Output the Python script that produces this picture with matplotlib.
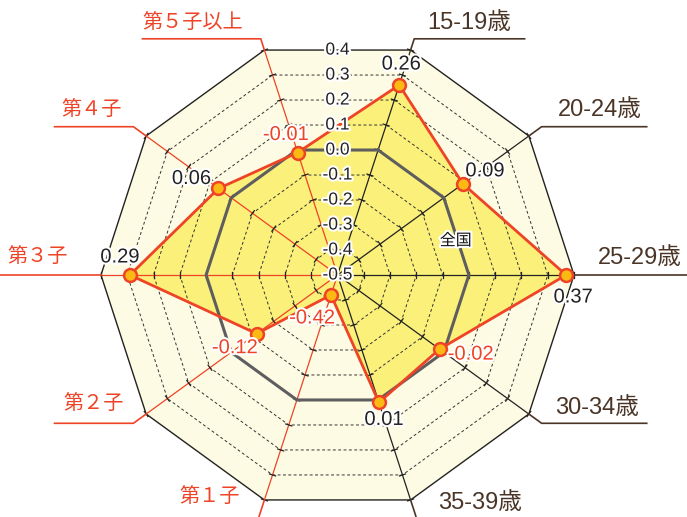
import numpy as np
import matplotlib.pyplot as plt
import matplotlib.patheffects as pe

plt.rcParams['font.family'] = ['Liberation Sans', 'Noto Sans CJK JP', 'DejaVu Sans']

# 軸の並び（時計回り、15-19歳が右上）
categories = ['15-19歳', '20-24歳', '25-29歳', '30-34歳', '35-39歳',
              '第１子', '第２子', '第３子', '第４子', '第５子以上']
values = [0.26, 0.09, 0.37, -0.02, 0.01, -0.42, -0.12, 0.29, 0.06, -0.01]
national = [0.0] * 10
levels = [-0.4, -0.3, -0.2, -0.1, 0.0, 0.1, 0.2, 0.3, 0.4]
tick_labels = ['-0.5', '-0.4', '-0.3', '-0.2', '-0.1', '0.0', '0.1', '0.2', '0.3', '0.4']

vmin, vmax = -0.5, 0.4
angles = np.deg2rad(72 - 36 * np.arange(10))

RED = '#EE4326'
BROWN = '#4A3526'
CREAM = '#FEFBE4'
YELLOW = '#FBF07A'

def xy(v, ang, extra=0.0):
    r = (np.asarray(v) - vmin) + extra
    return r * np.cos(ang), r * np.sin(ang)

halo = [pe.withStroke(linewidth=3, foreground='white')]

fig = plt.figure(figsize=(6.87, 5.17), dpi=100)
ax = fig.add_axes([0, 0, 1, 1])
scale = 262.8
ax.set_xlim(-337.5 / scale, 349.5 / scale)
ax.set_ylim(-242 / scale, 275 / scale)
ax.set_aspect('equal')
ax.axis('off')

# 外枠と背景
ox, oy = xy([vmax] * 10, angles)
ax.fill(ox, oy, color=CREAM, zorder=0)
ax.plot(np.append(ox, ox[0]), np.append(oy, oy[0]), color='#222222', lw=1.0, zorder=2)

# 値の塗り
px, py = xy(values, angles)
ax.fill(px, py, color=YELLOW, zorder=1)

# 目盛りの十角形（破線）
for lv in levels[:-1]:
    gx, gy = xy([lv] * 10, angles)
    ax.plot(np.append(gx, gx[0]), np.append(gy, gy[0]), color='#333333',
            lw=0.7, ls=(0, (3, 2.5)), zorder=2)

# 放射軸と目盛り
for i, ang in enumerate(angles):
    col = RED if categories[i].startswith('第') else '#222222'
    ex, ey = xy(vmax, ang)
    ax.plot([0, ex], [0, ey], color=col, lw=0.9, zorder=3)
    tl = 0.012
    for lv in levels:
        cx, cy = xy(lv, ang)
        nx, ny = -np.sin(ang) * tl, np.cos(ang) * tl
        ax.plot([cx - nx, cx + nx], [cy - ny, cy + ny], color='#222222', lw=0.9, zorder=3)

# 全国（基準＝0）
nx_, ny_ = xy(national, angles)
ax.plot(np.append(nx_, nx_[0]), np.append(ny_, ny_[0]), color='#5E5E5E', lw=2.2, zorder=4)
ax.text(0.45, 0.13, '全国', fontsize=11.5, ha='center', va='center',
        color='#111111', path_effects=halo, zorder=8)

# データの線と点
ax.plot(np.append(px, px[0]), np.append(py, py[0]), color=RED, lw=2.0, zorder=5)
ax.scatter(px, py, s=85, color='#FDB913', edgecolor=RED, linewidth=1.8, zorder=6)

# 値ラベル
offsets = [(2, 21), (22, 13), (7, -22), (31, -5), (5, -17),
           (-19, -23), (-22, -14), (-10, 18), (-27, 10), (-12, 18)]
for v, x, y, off in zip(values, px, py, offsets):
    ax.annotate(f'{v:.2f}', (x, y), xytext=off, textcoords='offset pixels',
                ha='center', va='center', fontsize=14.5,
                color=RED if v < 0 else '#222222', path_effects=halo, zorder=9)

# 縦の目盛りラベル
apothem = np.cos(np.deg2rad(18))
for lv, lab in zip([vmin] + levels, tick_labels):
    ax.text(0.0, (lv - vmin) * apothem, lab, fontsize=12.5, ha='center', va='center',
            color='#222222', path_effects=halo, zorder=7)

# 項目名と引き出し線
# (軸の延長, 水平線の長さ, 文字位置のずれ)
leaders = [
    (0.045, 0.42, (0.21, 0.06)),
    (0.06, 0.40, (0.22, 0.065)),
    (0.0, 0.45, (0.25, 0.065)),
    (0.06, 0.40, (0.21, 0.06)),
    (0.065, 0.0, (0.244, 0.05)),
    (0.065, 0.0, (-0.187, 0.073)),
    (0.06, 0.30, (-0.15, 0.07)),
    (0.0, 0.40, (-0.24, 0.065)),
    (0.06, 0.30, (-0.16, 0.06)),
    (0.045, 0.45, (-0.26, 0.06)),
]
for i, ang in enumerate(angles):
    is_child = categories[i].startswith('第')
    col = RED if is_child else BROWN
    vx, vy = xy(vmax, ang)
    ext, hlen, (tdx, tdy) = leaders[i]
    bx, by = xy(vmax, ang, extra=ext)
    side = 1 if np.cos(ang) > 1e-6 else -1
    if abs(np.cos(ang)) < 1e-6:
        side = 1
    ax.plot([vx, bx, bx + side * hlen], [vy, by, by], color=col, lw=1.2, zorder=3)
    ax.text(bx + tdx, by + tdy, categories[i], fontsize=17 if not is_child else 14.5,
            ha='center', va='center', color=col, zorder=7)

fig.savefig('out.png', dpi=100)
